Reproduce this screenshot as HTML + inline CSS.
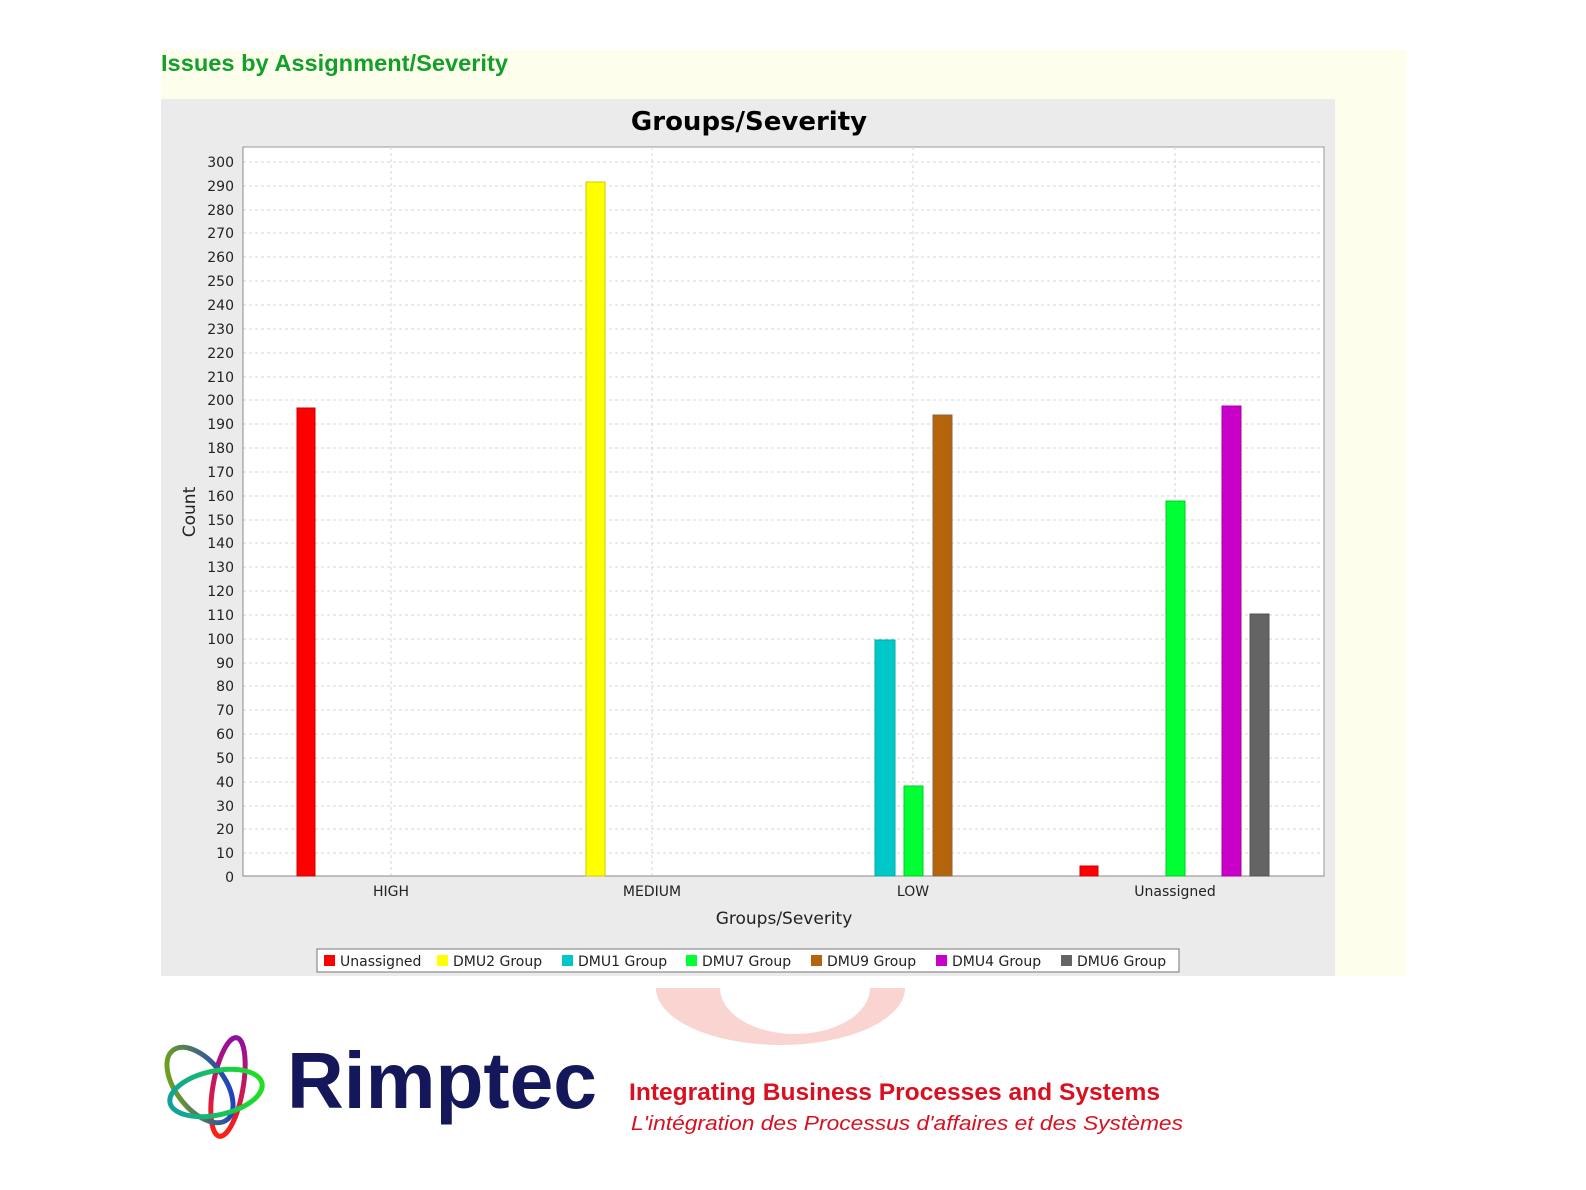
<!DOCTYPE html>
<html><head><meta charset="utf-8"><style>html,body{margin:0;padding:0;background:#fff;overflow:hidden;width:1586px;height:1190px}svg{display:block}</style></head>
<body>
<svg width="1586" height="1190" viewBox="0 0 1586 1190" xmlns="http://www.w3.org/2000/svg" font-family="'DejaVu Sans','Liberation Sans',sans-serif">
<defs>
<linearGradient id="g1" x1="0" y1="0" x2="0" y2="1"><stop offset="0" stop-color="#9010a0"/><stop offset="1" stop-color="#ff2010"/></linearGradient>
<linearGradient id="g2" x1="0" y1="0" x2="1" y2="1"><stop offset="0" stop-color="#80b000"/><stop offset="1" stop-color="#1030e0"/></linearGradient>
<linearGradient id="g3" x1="0" y1="0" x2="1" y2="0"><stop offset="0" stop-color="#10a0a0"/><stop offset="1" stop-color="#20e020"/></linearGradient>
</defs>
<rect x="161" y="50" width="1246" height="926" fill="#fefeec"/>
<text x="161" y="71" font-family="'Liberation Sans',sans-serif" font-weight="bold" font-size="23" fill="#12a02a" textLength="347" lengthAdjust="spacingAndGlyphs">Issues by Assignment/Severity</text>
<rect x="161" y="99" width="1174" height="877" fill="#ebebeb"/>
<text x="749" y="130" text-anchor="middle" font-size="26" font-weight="bold" fill="#000">Groups/Severity</text>
<rect x="243" y="147" width="1081" height="729" fill="#fff" stroke="#999" stroke-width="1"/>
<g stroke="#d6d6d6" stroke-dasharray="3,3" stroke-width="1">
<line x1="391" y1="147" x2="391" y2="876"/><line x1="652" y1="147" x2="652" y2="876"/><line x1="913" y1="147" x2="913" y2="876"/><line x1="1175" y1="147" x2="1175" y2="876"/>
<line x1="243" y1="162" x2="1324" y2="162"/><line x1="243" y1="186" x2="1324" y2="186"/><line x1="243" y1="210" x2="1324" y2="210"/><line x1="243" y1="233" x2="1324" y2="233"/><line x1="243" y1="257" x2="1324" y2="257"/><line x1="243" y1="281" x2="1324" y2="281"/><line x1="243" y1="305" x2="1324" y2="305"/><line x1="243" y1="329" x2="1324" y2="329"/><line x1="243" y1="353" x2="1324" y2="353"/><line x1="243" y1="377" x2="1324" y2="377"/><line x1="243" y1="400" x2="1324" y2="400"/><line x1="243" y1="424" x2="1324" y2="424"/><line x1="243" y1="448" x2="1324" y2="448"/><line x1="243" y1="472" x2="1324" y2="472"/><line x1="243" y1="496" x2="1324" y2="496"/><line x1="243" y1="520" x2="1324" y2="520"/><line x1="243" y1="543" x2="1324" y2="543"/><line x1="243" y1="567" x2="1324" y2="567"/><line x1="243" y1="591" x2="1324" y2="591"/><line x1="243" y1="615" x2="1324" y2="615"/><line x1="243" y1="639" x2="1324" y2="639"/><line x1="243" y1="663" x2="1324" y2="663"/><line x1="243" y1="686" x2="1324" y2="686"/><line x1="243" y1="710" x2="1324" y2="710"/><line x1="243" y1="734" x2="1324" y2="734"/><line x1="243" y1="758" x2="1324" y2="758"/><line x1="243" y1="782" x2="1324" y2="782"/><line x1="243" y1="806" x2="1324" y2="806"/><line x1="243" y1="829" x2="1324" y2="829"/><line x1="243" y1="853" x2="1324" y2="853"/>
</g>
<line x1="243" y1="147" x2="243" y2="876" stroke="#888"/><line x1="243" y1="876" x2="1324" y2="876" stroke="#888"/>
<g font-size="14" fill="#222" text-anchor="end">
<text x="234" y="167">300</text><text x="234" y="191">290</text><text x="234" y="215">280</text><text x="234" y="238">270</text><text x="234" y="262">260</text><text x="234" y="286">250</text><text x="234" y="310">240</text><text x="234" y="334">230</text><text x="234" y="358">220</text><text x="234" y="382">210</text><text x="234" y="405">200</text><text x="234" y="429">190</text><text x="234" y="453">180</text><text x="234" y="477">170</text><text x="234" y="501">160</text><text x="234" y="525">150</text><text x="234" y="548">140</text><text x="234" y="572">130</text><text x="234" y="596">120</text><text x="234" y="620">110</text><text x="234" y="644">100</text><text x="234" y="668">90</text><text x="234" y="691">80</text><text x="234" y="715">70</text><text x="234" y="739">60</text><text x="234" y="763">50</text><text x="234" y="787">40</text><text x="234" y="811">30</text><text x="234" y="834">20</text><text x="234" y="858">10</text><text x="234" y="882">0</text>
</g>
<text x="195" y="512" font-size="17" fill="#222" text-anchor="middle" transform="rotate(-90 195 512)">Count</text>
<g stroke-width="1">
<rect x="297" y="408" width="18" height="468" fill="#ff0000" stroke="#c00"/>
<rect x="586" y="182" width="19" height="694" fill="#ffff00" stroke="#cc0"/>
<rect x="875" y="640" width="20" height="236" fill="#00c8c8" stroke="#0aa"/>
<rect x="904" y="786" width="19" height="90" fill="#00ff33" stroke="#0c2"/>
<rect x="933" y="415" width="19" height="461" fill="#b4640a" stroke="#864"/>
<rect x="1080" y="866" width="18" height="10" fill="#ff0000" stroke="#c00"/>
<rect x="1166" y="501" width="19" height="375" fill="#00ff33" stroke="#0c2"/>
<rect x="1222" y="406" width="19" height="470" fill="#c800c8" stroke="#a0a"/>
<rect x="1250" y="614" width="19" height="262" fill="#646464" stroke="#555"/>
</g>
<g font-size="14" fill="#222" text-anchor="middle">
<text x="391" y="896">HIGH</text><text x="652" y="896">MEDIUM</text><text x="913" y="896">LOW</text><text x="1175" y="896">Unassigned</text>
</g>
<text x="784" y="924" font-size="17" fill="#222" text-anchor="middle">Groups/Severity</text>
<rect x="317" y="949" width="862" height="23" fill="#fff" stroke="#777"/>
<g font-size="14" fill="#222">
<rect x="324" y="955" width="11" height="11" fill="#f00"/><text x="340" y="966">Unassigned</text>
<rect x="437" y="955" width="11" height="11" fill="#ff0"/><text x="453" y="966">DMU2 Group</text>
<rect x="562" y="955" width="11" height="11" fill="#00c8c8"/><text x="578" y="966">DMU1 Group</text>
<rect x="686" y="955" width="11" height="11" fill="#0f3"/><text x="702" y="966">DMU7 Group</text>
<rect x="811" y="955" width="11" height="11" fill="#b4640a"/><text x="827" y="966">DMU9 Group</text>
<rect x="936" y="955" width="11" height="11" fill="#c800c8"/><text x="952" y="966">DMU4 Group</text>
<rect x="1061" y="955" width="11" height="11" fill="#646464"/><text x="1077" y="966">DMU6 Group</text>
</g>
<path d="M656 988 L905 988 A124.5 57 0 0 1 656 988 Z M720 988 A75 46 0 0 0 870 988 Z" fill="#f9d4d0" fill-rule="evenodd"/>
<g fill="none" stroke-width="5">
<ellipse cx="228" cy="1087" rx="15" ry="50" transform="rotate(10 228 1087)" stroke="url(#g1)"/>
<ellipse cx="200" cy="1085" rx="24" ry="44" transform="rotate(-38 200 1085)" stroke="url(#g2)"/>
<ellipse cx="216" cy="1093" rx="47" ry="22" transform="rotate(-12 216 1093)" stroke="url(#g3)"/>
</g>
<text x="287" y="1108" font-family="'Liberation Sans',sans-serif" font-weight="bold" font-size="80" fill="#14185a" textLength="310" lengthAdjust="spacingAndGlyphs">Rimptec</text>
<text x="629" y="1100" font-family="'Liberation Sans',sans-serif" font-weight="bold" font-size="24" fill="#d81020" textLength="531" lengthAdjust="spacingAndGlyphs">Integrating Business Processes and Systems</text>
<text x="631" y="1130" font-family="'Liberation Sans',sans-serif" font-style="italic" font-size="20" fill="#d81020" textLength="552" lengthAdjust="spacingAndGlyphs">L'intégration des Processus d'affaires et des Systèmes</text>
</svg>
</body></html>
